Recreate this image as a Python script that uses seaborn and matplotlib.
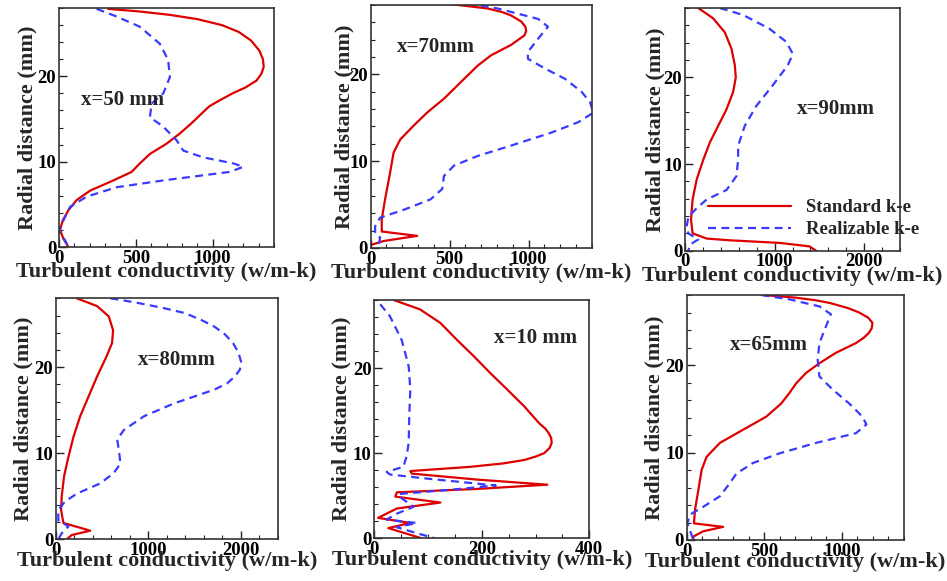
import numpy as np
import pandas as pd
import matplotlib
matplotlib.use("Agg")
import matplotlib.pyplot as plt
from matplotlib.ticker import MultipleLocator
import seaborn as sns

# ---------------- data (radial distance in mm, conductivity in w/m-k) -------------
# Panel x=50 mm
p50_std_y = [27.9, 27.6, 27.2, 26.7, 26.0, 25.2, 24.2, 23.0, 22.0, 21.1, 20.3, 19.5, 18.7,
             18.0, 17.2, 16.5, 16.0, 14.5, 13.3, 12.1, 10.9, 9.8, 8.8, 7.8, 6.6, 5.5, 4.3,
             3.1, 2.0, 1.0, 0.0]
p50_std_k = [320, 520, 720, 900, 1060, 1170, 1250, 1305, 1328, 1333, 1318, 1286, 1215,
             1130, 1048, 980, 950, 863, 787, 700, 592, 527, 473, 354, 202, 115, 61,
             24, 7, 28, 61]
p50_rea_y = [27.9, 27.0, 25.8, 23.8, 21.9, 19.9, 18.0, 16.8, 15.2, 14.1, 12.5, 11.3, 10.5,
             9.8, 9.4, 8.8, 7.8, 7.0, 5.9, 4.7, 3.5, 2.3, 1.6, 0.8, 0.0]
p50_rea_k = [245, 375, 527, 657, 711, 722, 679, 603, 592, 679, 766, 809, 939,
             1134, 1200, 1113, 679, 375, 180, 72, 39, 7, 2, 39, 61]

# Panel x=70 mm
p70_std_y = [28.2, 27.9, 27.6, 27.2, 26.8, 26.1, 25.5, 25.0, 24.5, 23.4, 22.2, 21.0, 19.1,
             17.2, 15.6, 14.1, 12.5, 11.0, 8.7, 5.6, 3.3, 1.9, 1.4, 0.8, 0.4]
p70_std_k = [453, 600, 740, 830, 889, 953, 980, 985, 974, 889, 762, 677, 570,
             464, 357, 272, 187, 145, 123, 91, 70, 70, 294, 81, 10]
p70_rea_y = [28.2, 27.6, 26.4, 25.5, 24.1, 22.6, 21.8, 20.7, 19.5, 18.0, 16.8, 15.6, 14.5,
             13.3, 11.8, 10.6, 9.5, 8.3, 6.8, 5.6, 4.4, 3.5, 2.5, 1.7, 1.2, 0.2]
p70_rea_k = [613, 804, 1060, 1123, 1060, 996, 996, 1102, 1230, 1336, 1389, 1411, 1315,
             1145, 889, 677, 528, 464, 453, 379, 209, 60, 28, 28, 60, 49]

# Panel x=90 mm
p90_std_y = [28.0, 26.8, 25.2, 23.3, 21.4, 20.0, 18.3, 16.3, 14.4, 12.5, 10.5, 8.2, 5.9,
             3.6, 2.0, 1.4, 1.2, 0.9, 0.5, 0.0]
p90_std_k = [148, 315, 444, 519, 556, 567, 537, 463, 370, 278, 204, 130, 85,
             67, 85, 241, 500, 1056, 1389, 1463]
p90_rea_y = [28.0, 27.2, 25.6, 24.1, 22.7, 21.4, 19.1, 16.7, 14.4, 12.1, 10.5, 8.6, 7.0,
             5.9, 4.9, 3.9, 2.8, 2.0, 1.3, 0.7, 0.0]
p90_rea_k = [389, 648, 944, 1130, 1204, 1148, 981, 796, 667, 593, 593, 574, 463,
             241, 130, 37, 19, 37, 148, 56, 37]

# Panel x=80 mm
p80_std_y = [28.0, 27.1, 25.9, 24.3, 22.8, 21.2, 18.9, 16.6, 14.3, 11.9, 9.6, 7.3, 5.0,
             3.4, 1.9, 1.0, 0.5, 0.0]
p80_std_k = [225, 444, 571, 618, 607, 545, 444, 353, 262, 189, 135, 87, 62,
             55, 80, 371, 171, 116]
p80_rea_y = [28.0, 27.7, 27.4, 26.9, 26.3, 25.5, 24.7, 23.8, 22.8, 21.7, 20.5, 19.7, 18.9,
             18.1, 17.4, 16.6, 15.8, 14.3, 12.7, 11.6, 10.4, 8.8, 7.7, 6.5, 5.3, 4.4, 3.4,
             2.2, 1.5, 0.7, 0.0]
p80_rea_k = [589, 760, 916, 1150, 1389, 1570, 1716, 1830, 1916, 1975, 2007, 1990, 1935,
             1850, 1716, 1500, 1280, 953, 735, 662, 680, 698, 625, 480, 225, 98, 25,
             25, 135, 62, 25]

# Panel x=10 mm
p10_std_y = [28.0, 26.9, 25.3, 23.3, 21.4, 19.4, 17.5, 15.5, 13.5, 12.9, 12.4, 11.8, 11.2,
             10.6, 10.0, 9.6, 9.2, 8.8, 8.4, 7.9, 7.6, 6.9, 6.3, 5.8, 5.4, 4.9, 4.2, 3.5,
             2.4, 1.8, 1.2, 0.0]
p10_std_k = [36, 85, 123, 154, 185, 216, 247, 279, 307, 318, 324, 329, 330,
             326, 316, 300, 279, 240, 179, 67, 70, 191, 322, 191, 42, 39, 123, 42,
             7, 67, 26, 88]
p10_rea_y = [27.5, 26.1, 23.3, 20.2, 17.5, 14.3, 11.2, 9.6, 8.4, 7.8, 7.5, 7.1, 6.5,
             6.2, 5.7, 5.2, 4.7, 3.7, 2.9, 2.2, 1.8, 1.3, 0.6, 0.0]
p10_rea_k = [11, 29, 51, 64, 67, 65, 64, 60, 54, 23, 29, 85, 179,
             226, 141, 45, 51, 73, 42, 23, 79, 42, 79, 113]

# Panel x=65 mm
p65_std_y = [28.0, 27.7, 27.4, 27.1, 26.5, 26.0, 25.4, 24.8, 24.2, 23.7, 23.1, 22.5, 21.4,
             20.2, 19.1, 17.9, 16.8, 15.6, 14.1, 12.6, 11.1, 9.5, 8.0, 5.7, 3.4, 1.9, 1.5,
             1.0, 0.4, 0.0]
p65_std_k = [491, 700, 830, 919, 1040, 1111, 1170, 1197, 1192, 1175, 1140, 1090, 962,
             855, 769, 705, 662, 609, 513, 363, 214, 128, 96, 75, 53, 47, 235,
             107, 43, 43]
p65_rea_y = [28.0, 27.5, 26.7, 25.8, 24.4, 22.5, 20.6, 18.7, 17.2, 15.6, 14.1, 13.2, 12.2,
             11.1, 9.9, 8.8, 7.6, 6.5, 5.0, 3.8, 2.9, 1.9, 1.1, 0.0]
p65_rea_k = [481, 662, 855, 929, 897, 855, 844, 855, 940, 1047, 1132, 1158, 1090,
             833, 598, 427, 321, 278, 214, 107, 21, 4, 21, 43]

model_names = ["Standard k-e", "Realizable k-e"]
panel_titles = ["x=50 mm", "x=70mm", "x=90mm", "x=80mm", "x=10 mm", "x=65mm"]
x_label = "Turbulent conductivity (w/m-k)"
y_label = "Radial distance (mm)"

panels = [
    (p50_std_y, p50_std_k, p50_rea_y, p50_rea_k),
    (p70_std_y, p70_std_k, p70_rea_y, p70_rea_k),
    (p90_std_y, p90_std_k, p90_rea_y, p90_rea_k),
    (p80_std_y, p80_std_k, p80_rea_y, p80_rea_k),
    (p10_std_y, p10_std_k, p10_rea_y, p10_rea_k),
    (p65_std_y, p65_std_k, p65_rea_y, p65_rea_k),
]

# ---------------- layout / style ----------------
sns.set_theme(style="ticks")
plt.rcParams["font.family"] = ["Liberation Serif", "DejaVu Serif"]
plt.rcParams["font.weight"] = "bold"
plt.rcParams["axes.labelweight"] = "bold"

RED = "#dd0000"
BLUE = "#3a3aff"

fig = plt.figure(figsize=(9.47, 5.81), dpi=100)
W, H = 947.0, 581.0
# pixel boxes (left, right, top, bottom)
boxes = [(59, 274, 8, 247), (370.7, 591.7, 5, 248), (685, 900, 8, 250.7),
         (56, 277.7, 298.3, 539.3), (374.3, 589.3, 300, 538.3), (686.7, 904, 295, 540)]
xlims = [1400, 1400, 2400, 2400, 400, 1400]
xmajor = [500, 500, 1000, 1000, 200, 500]
xminor = [100, 100, 200, 200, 50, 100]
title_pos = [(0.102, 0.615), (0.119, 0.828), (0.52, 0.584),
             (0.37, 0.744), (0.557, 0.839), (0.199, 0.796)]
ylab_off = [32, 26, 30, 33, 33, 32]
xlab_off = [-25, -25, -25, -22, -22, -22]

for i, (l, r, t, b) in enumerate(boxes):
    ax = fig.add_axes([l / W, 1 - b / H, (r - l) / W, (b - t) / H])
    sy, sk, ry, rk = panels[i]
    df_s = pd.DataFrame({"y": sy, "k": sk})
    df_r = pd.DataFrame({"y": ry, "k": rk})
    sns.lineplot(data=df_s, x="k", y="y", sort=False, estimator=None, ax=ax,
                 color=RED, lw=1.6, label=model_names[0])
    sns.lineplot(data=df_r, x="k", y="y", sort=False, estimator=None, ax=ax,
                 color=BLUE, lw=1.6, label=model_names[1])
    ax.lines[1].set_dashes((3.6, 2.4))
    ax.set_xlim(0, xlims[i])
    ax.set_ylim(0, 28)
    ax.xaxis.set_major_locator(MultipleLocator(xmajor[i]))
    ax.xaxis.set_minor_locator(MultipleLocator(xminor[i]))
    ax.yaxis.set_major_locator(MultipleLocator(10))
    ax.yaxis.set_minor_locator(MultipleLocator(2))
    ax.tick_params(which="both", direction="in", top=False, right=False,
                   labelsize=13.5, pad=2, colors="#222222", labelcolor="black")
    ax.tick_params(which="major", length=6, width=1)
    ax.tick_params(which="minor", length=3, width=0.8)
    for lab in ax.get_xticklabels() + ax.get_yticklabels():
        lab.set_fontweight("bold")
    for sp in ax.spines.values():
        sp.set_visible(True)
        sp.set_linewidth(1.2)
        sp.set_color("#333333")
    ax.set_xlabel("")
    ax.set_ylabel("")
    ax.text(0.5, xlab_off[i] / (b - t), x_label, transform=ax.transAxes,
            ha="center", va="center", fontsize=16, fontweight="bold", clip_on=False)
    ax.text(-ylab_off[i] / (r - l), 0.5, y_label, transform=ax.transAxes,
            ha="center", va="center", rotation=90, fontsize=16, fontweight="bold",
            clip_on=False)
    ax.text(title_pos[i][0], title_pos[i][1], panel_titles[i], transform=ax.transAxes,
            ha="left", va="center", fontsize=15, fontweight="bold")
    if i == 2:
        ax.legend(loc="lower left", bbox_to_anchor=(0.107, 0.052), frameon=False,
                  borderaxespad=0, borderpad=0,
                  handlelength=4.4, handletextpad=0.8, labelspacing=0.25,
                  prop={"family": "Liberation Serif", "weight": "bold", "size": 13.5})
    else:
        lg = ax.get_legend()
        if lg is not None:
            lg.remove()

fig.savefig("out.png", dpi=100)
